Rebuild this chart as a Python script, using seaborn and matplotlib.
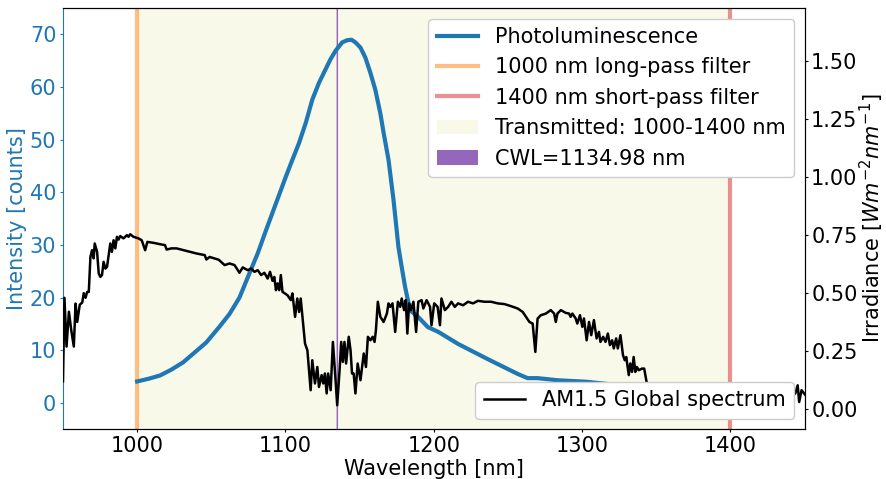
import matplotlib
matplotlib.use("Agg")
import matplotlib.pyplot as plt
import seaborn as sns
import numpy as np
import pandas as pd

# ---------------- data ----------------
pl_wavelength = [1000, 1008, 1015.4, 1023, 1031, 1042.2, 1046.7, 1055.6, 1062.3, 1069,
                 1075.7, 1081.3, 1086.9, 1093.6, 1100.3, 1104.7, 1109.2, 1113.7, 1118.1,
                 1122.6, 1127.1, 1130.4, 1133.8, 1138.3, 1141.6, 1144.5, 1147.2, 1150.6,
                 1153.9, 1157.3, 1160.6, 1164, 1166.2, 1169.5, 1172.9, 1176.2, 1178.4,
                 1180.7, 1184, 1189.6, 1196, 1203, 1216.4, 1236.5, 1256.6, 1263.3, 1270,
                 1283.4, 1303.5, 1320, 1340, 1360, 1380, 1400]
pl_intensity = [4.07, 4.6, 5.2, 6.3, 7.7, 10.4, 11.5, 14.5, 16.9, 20.0,
                24.6, 28.4, 32.8, 37.9, 43.0, 46.2, 49.4, 53.2, 57.6,
                60.8, 63.4, 65.3, 66.9, 68.5, 68.9, 69.0, 68.5, 67.5,
                65.6, 62.7, 59.5, 55.0, 51.3, 46.2, 38.5, 29.6, 25.8,
                22.0, 17.6, 16.3, 14.4, 13.5, 11.2, 8.3, 5.5, 4.7, 4.7,
                4.3, 4.0, 3.5, 3.0, 2.7, 2.4, 2.2]

am_wavelength = [950.0, 951.0, 952.4, 954.0, 955.6, 957.3, 958.5, 959.6, 961.3, 963.0,
                 964.0, 965.2, 966.3, 967.4, 968.5, 969.6, 970.7, 971.4, 973.0, 974.1,
                 975.2, 976.3, 977.4, 978.6, 979.7, 980.8, 981.9, 983.0, 984.1, 985.3,
                 986.4, 987.5, 988.6, 990.8, 993.1, 994.2, 995.3, 997.5, 1000.9, 1003.1,
                 1005.4, 1006.9, 1010.9, 1015.4, 1018.8, 1019.9, 1023.2, 1026.6, 1033.3, 1040.0,
                 1045.6, 1046.7, 1048.9, 1055.0, 1059.0, 1062.3, 1065.7, 1069.0, 1071.2, 1074.6,
                 1076.9, 1079.1, 1081.3, 1083.6, 1085.8, 1088.0, 1089.6, 1091.3, 1092.5, 1093.6,
                 1094.7, 1095.8, 1096.9, 1098.0, 1101.4, 1103.6, 1104.7, 1106.5, 1108.0, 1109.2,
                 1110.3, 1111.9, 1113.2, 1114.8, 1117.0, 1118.1, 1119.9, 1121.5, 1122.6, 1124.4,
                 1125.5, 1126.6, 1127.8, 1128.8, 1130.5, 1132.0, 1133.8, 1134.9, 1136.5, 1137.6,
                 1138.7, 1139.8, 1140.9, 1142.7, 1143.9, 1144.9, 1146.0, 1147.2, 1148.7, 1150.6,
                 1152.8, 1154.3, 1155.6, 1157.3, 1158.8, 1160.1, 1161.0, 1162.3, 1164.0, 1166.2,
                 1168.4, 1169.5, 1170.7, 1172.2, 1174.0, 1175.8, 1177.4, 1178.4, 1180.0, 1181.1,
                 1182.2, 1183.4, 1184.7, 1186.3, 1188.1, 1189.6, 1191.8, 1193.0, 1195.2, 1197.5,
                 1198.5, 1200.3, 1202.6, 1204.2, 1205.2, 1207.5, 1209.7, 1211.9, 1214.2, 1216.4,
                 1219.8, 1223.1, 1226.5, 1229.8, 1234.3, 1238.7, 1243.2, 1247.7, 1252.1, 1256.6,
                 1260.0, 1262.2, 1264.5, 1266.7, 1268.5, 1270.0, 1272.2, 1275.6, 1278.9, 1281.2,
                 1282.3, 1283.4, 1285.7, 1289.0, 1291.3, 1292.3, 1293.5, 1295.7, 1296.8, 1298.6,
                 1300.2, 1301.3, 1303.1, 1304.7, 1306.2, 1308.0, 1309.8, 1311.4, 1312.4, 1314.2,
                 1315.8, 1317.4, 1318.8, 1320.3, 1321.4, 1323.0, 1324.1, 1325.9, 1327.6, 1328.8,
                 1329.8, 1331.5, 1332.5, 1333.7, 1334.8, 1335.9, 1337.0, 1338.2, 1340.4, 1341.9,
                 1343.3, 1346.0, 1350.0, 1360.0, 1380.0, 1400.0, 1420.0, 1435.0, 1440.0, 1443.8,
                 1445.4, 1446.4, 1448.0, 1450.7]
am_irradiance = [0.12, 0.48, 0.27, 0.42, 0.34, 0.27, 0.455, 0.376, 0.45, 0.46,
                 0.50, 0.48, 0.505, 0.505, 0.656, 0.685, 0.65, 0.714, 0.678, 0.585,
                 0.57, 0.578, 0.635, 0.606, 0.613, 0.664, 0.714, 0.678, 0.728, 0.693,
                 0.743, 0.731, 0.746, 0.736, 0.75, 0.743, 0.754, 0.743, 0.736, 0.728,
                 0.685, 0.721, 0.717, 0.711, 0.707, 0.688, 0.693, 0.693, 0.682, 0.671,
                 0.664, 0.645, 0.656, 0.644, 0.621, 0.628, 0.621, 0.588, 0.611, 0.599,
                 0.606, 0.592, 0.599, 0.578, 0.588, 0.563, 0.592, 0.553, 0.570, 0.513,
                 0.542, 0.513, 0.578, 0.506, 0.491, 0.470, 0.499, 0.398, 0.477, 0.419,
                 0.477, 0.369, 0.283, 0.254, 0.082, 0.211, 0.111, 0.182, 0.096, 0.147,
                 0.111, 0.154, 0.068, 0.154, 0.082, 0.29, 0.125, 0.017, 0.168, 0.29,
                 0.204, 0.29, 0.197, 0.312, 0.254, 0.154, 0.154, 0.068, 0.197, 0.125,
                 0.24, 0.182, 0.312, 0.297, 0.312, 0.29, 0.34, 0.463, 0.398, 0.376,
                 0.412, 0.456, 0.441, 0.456, 0.333, 0.463, 0.441, 0.477, 0.427, 0.47,
                 0.326, 0.456, 0.427, 0.463, 0.333, 0.463, 0.47, 0.434, 0.47, 0.441,
                 0.362, 0.456, 0.441, 0.362, 0.477, 0.427, 0.441, 0.463, 0.441, 0.456,
                 0.448, 0.463, 0.456, 0.467, 0.463, 0.463, 0.456, 0.453, 0.444, 0.434,
                 0.419, 0.398, 0.376, 0.369, 0.247, 0.39, 0.405, 0.412, 0.427, 0.412,
                 0.376, 0.412, 0.427, 0.415, 0.412, 0.398, 0.412, 0.391, 0.369, 0.405,
                 0.355, 0.391, 0.297, 0.376, 0.319, 0.384, 0.305, 0.333, 0.29, 0.312,
                 0.29, 0.326, 0.276, 0.297, 0.262, 0.305, 0.262, 0.319, 0.233, 0.211,
                 0.225, 0.147, 0.197, 0.161, 0.225, 0.161, 0.182, 0.168, 0.175, 0.175,
                 0.125, 0.04, 0.01, 0.003, 0.0, 0.002, 0.005, 0.03, 0.05, 0.068,
                 0.103, 0.031, 0.082, 0.06]

lp_filter = 1000
sp_filter = 1400
cwl = 1134.98

# ---------------- plot ----------------
FS = 15
plt.rcParams['font.family'] = ['DejaVu Sans']
plt.rcParams['font.size'] = FS
plt.rcParams['xtick.major.size'] = 2.4
plt.rcParams['ytick.major.size'] = 2.4
plt.rcParams['xtick.major.pad'] = 2.4
plt.rcParams['ytick.major.pad'] = 2.4

fig = plt.figure(figsize=(8.87, 4.79), dpi=100)
ax1 = fig.add_axes([0.071, 0.104, 0.836, 0.879])

pl_df = pd.DataFrame({"wl": pl_wavelength, "intensity": pl_intensity})
am_df = pd.DataFrame({"wl": am_wavelength, "irr": am_irradiance})

sns.lineplot(data=pl_df, x="wl", y="intensity", ax=ax1, color="tab:blue",
             linewidth=3, label="Photoluminescence", sort=False, zorder=3)
ax1.axvline(lp_filter, color="tab:orange", alpha=0.5, linewidth=3,
            label=f"{lp_filter} nm long-pass filter")
ax1.axvline(sp_filter, color="tab:red", alpha=0.5, linewidth=3,
            label=f"{sp_filter} nm short-pass filter")
ax1.axvspan(lp_filter, sp_filter, color="beige", alpha=0.6, linewidth=0,
            label=f"Transmitted: {lp_filter}-{sp_filter} nm")
cwl_span = ax1.axvspan(cwl - 0.5, cwl + 0.5, facecolor="tab:purple",
                       edgecolor="none", linewidth=0, label=f"CWL={cwl} nm")
cwl_span.set_snap(False)

ax1.set_xlim(950, 1450)
ax1.set_ylim(-5, 75)
ax1.set_xlabel("Wavelength [nm]", fontsize=FS, labelpad=2)
ax1.set_ylabel("Intensity [counts]", color="tab:blue", fontsize=FS, labelpad=2)
ax1.tick_params(axis="y", colors="tab:blue", labelsize=FS)
ax1.tick_params(axis="x", labelsize=FS)
ax1.spines["left"].set_color("tab:blue")
ax1.legend(loc="upper right", fontsize=FS, framealpha=1)

ax2 = ax1.twinx()
sns.lineplot(data=am_df, x="wl", y="irr", ax=ax2, color="black", linewidth=1.8,
             label="AM1.5 Global spectrum", sort=False)
ax2.set_ylim(-0.086, 1.728)
ax2.set_xlim(950, 1450)
ax2.set_ylabel("Irradiance [$Wm^{-2}nm^{-1}$]", fontsize=FS, labelpad=0)
ax2.tick_params(axis="y", labelsize=FS)
ax2.spines["left"].set_visible(False)
ax2.legend(loc="lower right", fontsize=FS, framealpha=1)

fig.savefig("out.png", dpi=100)
